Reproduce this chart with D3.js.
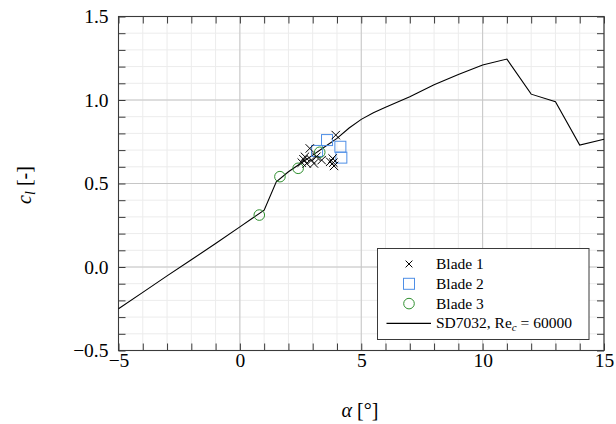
<!DOCTYPE html>
<html>
<head>
<meta charset="utf-8">
<script src="https://cdn.jsdelivr.net/npm/d3@7"></script>
<style>
  body { margin: 0; background: #fff; }
  svg { display: block; }
</style>
</head>
<body>
<div id="root"></div>
<script>
"use strict";

// SD7032 polar, Re_c = 60000
const polarAlpha = [-5, -4, -3, -2, -1, 0, 0.5, 1, 1.5, 2, 2.5, 3, 3.5, 4, 4.5, 5, 5.5, 6, 7, 8, 9, 10, 11, 12, 13, 14, 15];
const polarCl = [-0.25, -0.152, -0.053, 0.043, 0.141, 0.24, 0.29, 0.34, 0.51, 0.57, 0.62, 0.67, 0.72, 0.77, 0.832, 0.884, 0.923, 0.956, 1.02, 1.092, 1.153, 1.21, 1.245, 1.035, 0.99, 0.73, 0.765];

// measured points
const blade1Alpha = [3.95, 2.88, 2.62, 2.55, 2.75, 2.95, 3.15, 3.37, 3.72, 3.82, 3.85, 3.88, 2.68, 3.05];
const blade1Cl = [0.79, 0.71, 0.645, 0.625, 0.62, 0.64, 0.66, 0.64, 0.63, 0.65, 0.625, 0.605, 0.66, 0.62];
const blade2Alpha = [3.59, 4.14, 4.18, 3.18];
const blade2Cl = [0.76, 0.72, 0.655, 0.695];
const blade3Alpha = [0.8, 1.65, 2.4, 3.29];
const blade3Cl = [0.311, 0.541, 0.591, 0.687];

const xMajor = [-5, 0, 5, 10, 15];
const yMajor = [-0.5, 0, 0.5, 1, 1.5];
const legendLabels = ["Blade 1", "Blade 2", "Blade 3"];

const width = 616;
const height = 424;
const plotLeft = 118.5;
const plotRight = 604;
const plotTop = 16.5;
const plotBottom = 350.5;
const tickLen = 7;
const serif = "Liberation Serif";

const col = {
  grid: "#c6c6c6",
  minor: "#ececec",
  frame: "#3a3a3a",
  blade2: "#4f8fe6",
  blade3: "#2f8f2f",
};

const x = d3.scaleLinear().domain([-5, 15]).range([plotLeft, plotRight]);
const y = d3.scaleLinear().domain([-0.5, 1.5]).range([plotBottom, plotTop]);

const xMinor = d3.range(-5, 15.01, 1);
const yMinor = d3.range(-5, 15.01, 1).map((v) => v / 10);

const svg = d3.select("#root")
  .append("svg")
  .attr("width", width)
  .attr("height", height)
  .attr("font-family", serif);

// grid
svg.append("g")
  .selectAll("line")
  .data(xMinor)
  .join("line")
  .attr("x1", (d) => x(d)).attr("x2", (d) => x(d))
  .attr("y1", plotTop).attr("y2", plotBottom)
  .attr("stroke", col.minor);

svg.append("g")
  .selectAll("line")
  .data(yMinor)
  .join("line")
  .attr("y1", (d) => y(d)).attr("y2", (d) => y(d))
  .attr("x1", plotLeft).attr("x2", plotRight)
  .attr("stroke", col.minor);

svg.append("g")
  .selectAll("line")
  .data(xMajor)
  .join("line")
  .attr("x1", (d) => x(d)).attr("x2", (d) => x(d))
  .attr("y1", plotTop).attr("y2", plotBottom)
  .attr("stroke", col.grid);

svg.append("g")
  .selectAll("line")
  .data(yMajor)
  .join("line")
  .attr("y1", (d) => y(d)).attr("y2", (d) => y(d))
  .attr("x1", plotLeft).attr("x2", plotRight)
  .attr("stroke", col.grid);

// inner ticks on all sides
const addTicks = (axis, tx, ty) => {
  const g = svg.append("g")
    .attr("transform", `translate(${tx}, ${ty})`)
    .call(axis)
    .attr("font-family", null)
    .attr("font-size", null);
  g.select(".domain").remove();
  g.selectAll(".tick line").attr("stroke", col.frame);
  g.selectAll("text")
    .attr("font-family", serif)
    .attr("font-size", 19.5)
    .attr("fill", "#000");
  return g;
};

addTicks(d3.axisBottom(x).tickValues(xMinor).tickSize(-tickLen).tickFormat(""), 0, plotBottom);
addTicks(d3.axisTop(x).tickValues(xMinor).tickSize(-tickLen).tickFormat(""), 0, plotTop);
addTicks(d3.axisLeft(y).tickValues(yMinor).tickSize(-tickLen).tickFormat(""), plotLeft, 0);
addTicks(d3.axisRight(y).tickValues(yMinor).tickSize(-tickLen).tickFormat(""), plotRight, 0);

addTicks(
  d3.axisBottom(x).tickValues(xMajor).tickSize(0).tickPadding(3).tickFormat(d3.format("d")),
  0, plotBottom
);
addTicks(
  d3.axisLeft(y).tickValues(yMajor).tickSize(0).tickPadding(10).tickFormat(d3.format(".1f")),
  plotLeft, 0
);

// frame
svg.append("rect")
  .attr("x", plotLeft).attr("y", plotTop)
  .attr("width", plotRight - plotLeft).attr("height", plotBottom - plotTop)
  .attr("fill", "none")
  .attr("stroke", col.frame)
  .attr("stroke-width", 1.1);

// polar line
const line = d3.line()
  .x((d, i) => x(polarAlpha[i]))
  .y((d) => y(d));

const plot = svg.append("g");

plot.append("path")
  .datum(polarCl)
  .attr("d", line)
  .attr("fill", "none")
  .attr("stroke", "#000")
  .attr("stroke-width", 1.1);

const crossPath = (s) => `M${-s},${-s}L${s},${s}M${-s},${s}L${s},${-s}`;

plot.append("g")
  .selectAll("rect")
  .data(blade2Cl)
  .join("rect")
  .attr("x", (d, i) => x(blade2Alpha[i]) - 5.5)
  .attr("y", (d) => y(d) - 5.5)
  .attr("width", 11).attr("height", 11)
  .attr("fill", "none")
  .attr("stroke", col.blade2)
  .attr("stroke-width", 1);

plot.append("g")
  .selectAll("circle")
  .data(blade3Cl)
  .join("circle")
  .attr("cx", (d, i) => x(blade3Alpha[i]))
  .attr("cy", (d) => y(d))
  .attr("r", 5.3)
  .attr("fill", "none")
  .attr("stroke", col.blade3)
  .attr("stroke-width", 1);

plot.append("g")
  .selectAll("path")
  .data(blade1Cl)
  .join("path")
  .attr("transform", (d, i) => `translate(${x(blade1Alpha[i])}, ${y(d)})`)
  .attr("d", crossPath(4.2))
  .attr("stroke", "#000")
  .attr("stroke-width", 1);

// axis labels
svg.append("text")
  .attr("x", 360).attr("y", 417)
  .attr("text-anchor", "middle")
  .attr("font-size", 20)
  .html('<tspan font-style="italic">α</tspan> [°]');

svg.append("text")
  .attr("transform", "translate(31, 185) rotate(-90)")
  .attr("text-anchor", "middle")
  .attr("font-size", 20)
  .html('<tspan font-style="italic">c</tspan><tspan font-style="italic" font-size="14px" dy="4">l</tspan><tspan dy="-4"> [-]</tspan>');

// legend
const legend = svg.append("g");
legend.append("rect")
  .attr("x", 377.5).attr("y", 248.5)
  .attr("width", 211.5).attr("height", 91)
  .attr("fill", "#fff")
  .attr("stroke", col.frame);

const rowY = (i) => 264 + i * 19.8;
const mx = 409;

legend.append("path")
  .attr("transform", `translate(${mx}, ${rowY(0)})`)
  .attr("d", crossPath(3.4))
  .attr("stroke", "#000");
legend.append("rect")
  .attr("x", mx - 5.5).attr("y", rowY(1) - 5.5)
  .attr("width", 11).attr("height", 11)
  .attr("fill", "none").attr("stroke", col.blade2);
legend.append("circle")
  .attr("cx", mx).attr("cy", rowY(2)).attr("r", 5.3)
  .attr("fill", "none").attr("stroke", col.blade3);
legend.append("line")
  .attr("x1", 386.5).attr("x2", 431)
  .attr("y1", rowY(3)).attr("y2", rowY(3))
  .attr("stroke", "#000").attr("stroke-width", 1.1);

legend.selectAll("text.lab")
  .data(legendLabels)
  .join("text")
  .attr("x", 436)
  .attr("y", (d, i) => rowY(i) + 5)
  .attr("font-size", 15.5)
  .text((d) => d);

legend.append("text")
  .attr("x", 436)
  .attr("y", rowY(3) + 5)
  .attr("font-size", 15.5)
  .html('SD7032, Re<tspan font-style="italic" font-size="11px" dy="3">c</tspan><tspan dy="-3"> = 60000</tspan>');
</script>
</body>
</html>
